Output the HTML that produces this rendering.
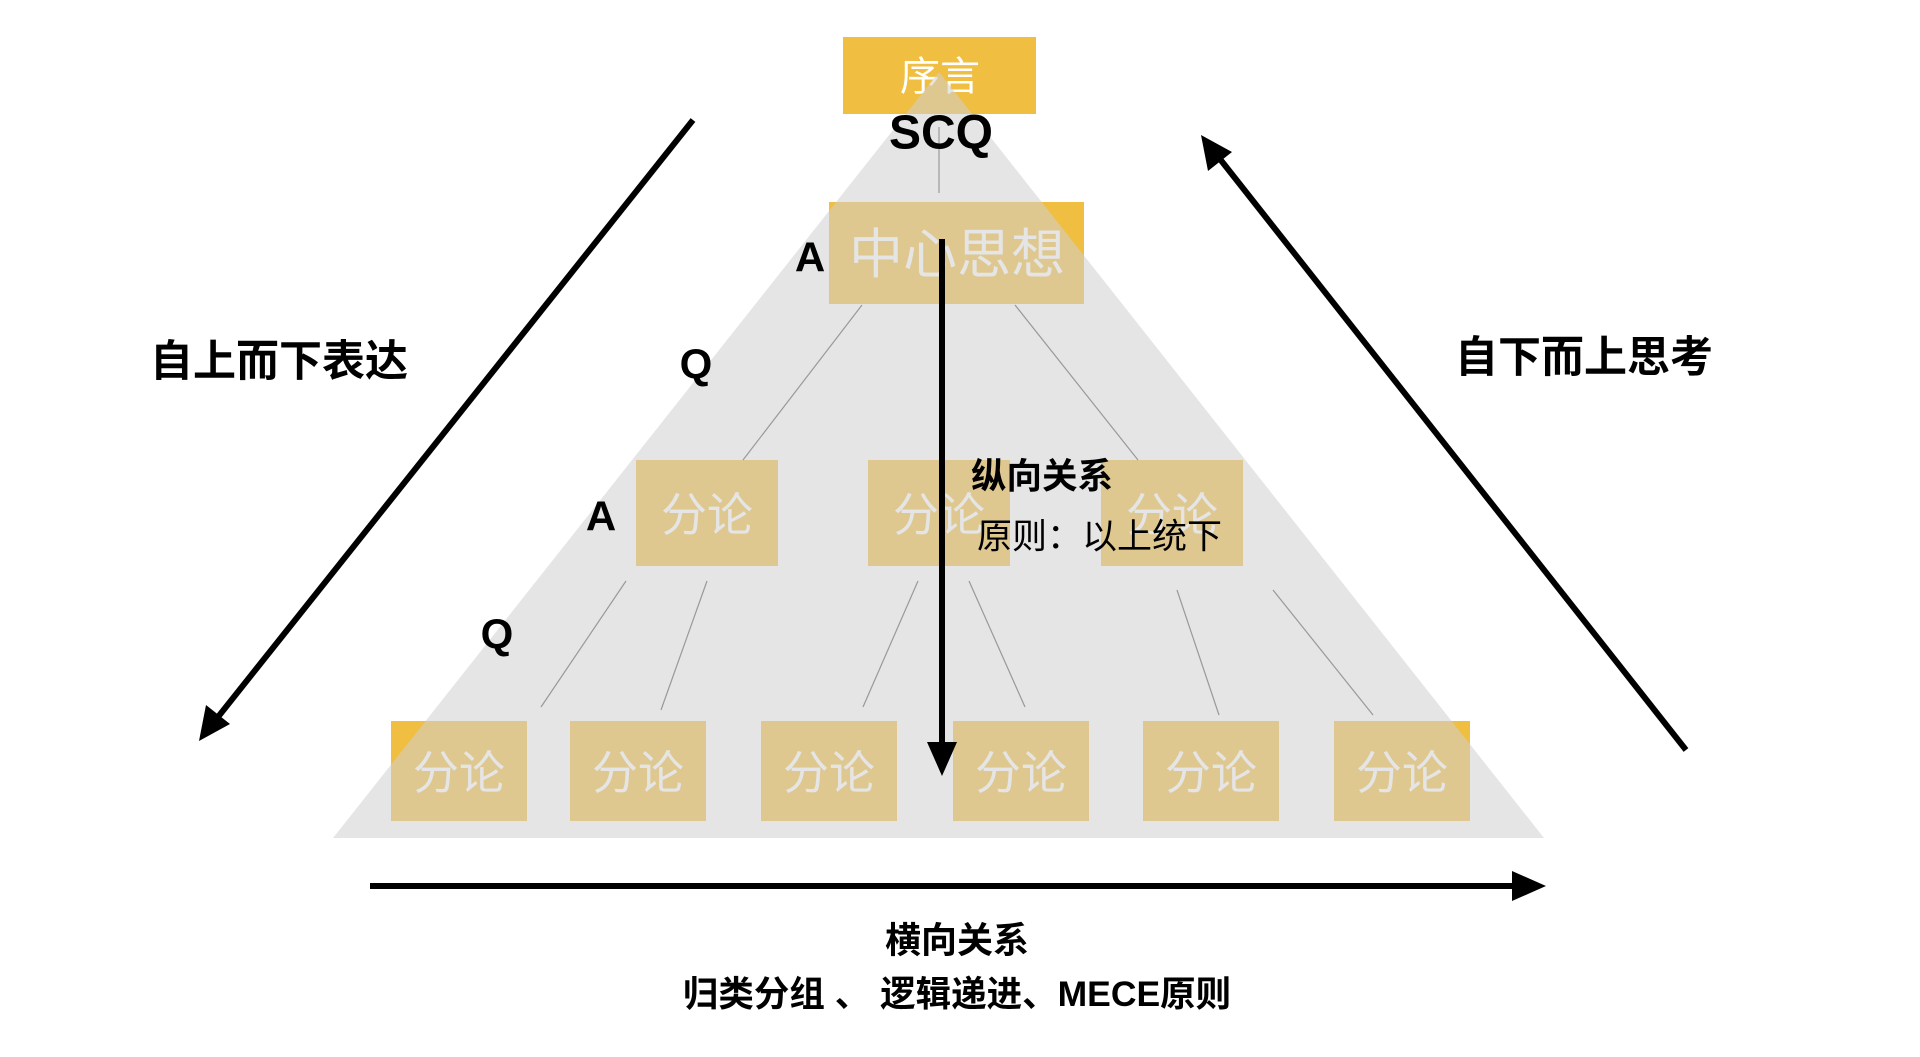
<!DOCTYPE html>
<html><head><meta charset="utf-8"><style>
html,body{margin:0;padding:0;background:#fff;}
svg{display:block;}
text{font-family:"Liberation Sans","Noto Sans CJK SC",sans-serif;}
</style></head><body>
<svg width="1920" height="1057" viewBox="0 0 1920 1057" xmlns="http://www.w3.org/2000/svg">
<g fill="#F0BE40">
<rect x="843" y="37" width="193" height="77"/>
<rect x="829" y="202" width="255" height="102"/>
<rect x="636" y="460" width="142" height="106"/>
<rect x="868" y="460" width="142" height="106"/>
<rect x="1101" y="460" width="142" height="106"/>
<rect x="391" y="721" width="136" height="100"/>
<rect x="570" y="721" width="136" height="100"/>
<rect x="761" y="721" width="136" height="100"/>
<rect x="953" y="721" width="136" height="100"/>
<rect x="1143" y="721" width="136" height="100"/>
<rect x="1334" y="721" width="136" height="100"/>
</g>
<g fill="#fff" text-anchor="middle" dominant-baseline="central">
<text x="940" y="77" font-size="40">序言</text>
<text x="957" y="255" font-size="54">中心思想</text>
<text x="707" y="515" font-size="46">分论</text>
<text x="939" y="515" font-size="46">分论</text>
<text x="1172" y="515" font-size="46">分论</text>
<text x="459" y="773" font-size="46">分论</text>
<text x="638" y="773" font-size="46">分论</text>
<text x="829" y="773" font-size="46">分论</text>
<text x="1021" y="773" font-size="46">分论</text>
<text x="1211" y="773" font-size="46">分论</text>
<text x="1402" y="773" font-size="46">分论</text>
</g>
<polygon points="939,72 333,838 1544,838" fill="#d0d0d0" opacity="0.55"/>
<g stroke="#999" stroke-width="1.2">
<line x1="939" y1="127" x2="939" y2="193"/>
<line x1="862" y1="305" x2="743" y2="460"/>
<line x1="1015" y1="305" x2="1138" y2="460"/>
<line x1="626" y1="581" x2="541" y2="707"/>
<line x1="707" y1="581" x2="661" y2="710"/>
<line x1="918" y1="581" x2="863" y2="707"/>
<line x1="969" y1="581" x2="1025" y2="707"/>
<line x1="1177" y1="590" x2="1219" y2="715"/>
<line x1="1273" y1="590" x2="1373" y2="715"/>
</g>
<g stroke="#000" stroke-width="6" fill="none">
<line x1="942" y1="239" x2="942" y2="748"/>
<line x1="370" y1="886" x2="1515" y2="886"/>
<line x1="693" y1="120" x2="214" y2="722"/>
<line x1="1686" y1="750" x2="1216" y2="154"/>
</g>
<g fill="#000">
<polygon points="927,742 957,742 942,776"/>
<polygon points="1512,871 1512,901 1546,886"/>
<polygon points="199,741 206,705 230,724"/>
<polygon points="1201,135 1208,171 1232,152"/>
</g>
<g fill="#000" font-weight="bold" text-anchor="middle" dominant-baseline="central">
<text x="941" y="133" font-size="48">SCQ</text>
<text x="810" y="257" font-size="42">A</text>
<text x="696" y="364" font-size="42">Q</text>
<text x="601" y="516" font-size="42">A</text>
<text x="497" y="634" font-size="42">Q</text>
<text x="957" y="940" font-size="36">横向关系</text>
<text x="957" y="994" font-size="35.5">归类分组 、 逻辑递进、MECE原则</text>
</g>
<g fill="#000" dominant-baseline="central">
<text x="150" y="362" font-size="43" font-weight="bold">自上而下表达</text>
<text x="1455" y="358" font-size="43" font-weight="bold">自下而上思考</text>
<text x="971" y="476" font-size="35.5" font-weight="bold">纵向关系</text>
<text x="977" y="537" font-size="35">原则：以上统下</text>
</g>
</svg>
</body></html>
